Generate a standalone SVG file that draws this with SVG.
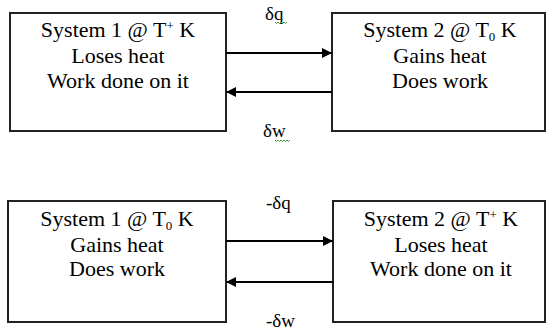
<svg xmlns="http://www.w3.org/2000/svg" width="547" height="331" viewBox="0 0 547 331">
<style>
.box{fill:#fff;stroke:#222;stroke-width:2}
.t{font-family:"Liberation Serif","Times New Roman",serif;font-size:22px;fill:#000;text-anchor:middle}
.l{font-family:"Liberation Serif","Times New Roman",serif;font-size:19px;fill:#000}
.c{stroke:#000;stroke-width:2;fill:none}
.sq{stroke:#3a9a3a;stroke-width:1;fill:none}
</style>
<defs>
<marker id="ah" viewBox="0 0 10 10" refX="10" refY="5" markerWidth="10" markerHeight="10" markerUnits="userSpaceOnUse" orient="auto">
<path d="M0,0 L10,5 L0,10 z" fill="#000"/>
</marker>
</defs>
<rect width="547" height="331" fill="#fff"/>
<g id="top-sys1">
<rect class="box" x="10" y="13" width="216" height="118"/>
<text class="t" x="118" y="37">System 1 @ T<tspan font-size="13" dy="-7">+</tspan><tspan dy="7"> K</tspan></text>
<text class="t" x="118" y="63">Loses heat</text>
<text class="t" x="118" y="88">Work done on it</text>
</g>
<g id="top-sys2">
<rect class="box" x="332" y="13" width="213" height="118"/>
<text class="t" x="440" y="37">System 2 @ T<tspan font-size="13" dy="4">0</tspan><tspan dy="-4"> K</tspan></text>
<text class="t" x="440" y="63">Gains heat</text>
<text class="t" x="440" y="88">Does work</text>
</g>
<g id="bot-sys1">
<rect class="box" x="8" y="201" width="218" height="121"/>
<text class="t" x="117" y="226">System 1 @ T<tspan font-size="13" dy="4">0</tspan><tspan dy="-4"> K</tspan></text>
<text class="t" x="117" y="252">Gains heat</text>
<text class="t" x="117" y="276">Does work</text>
</g>
<g id="bot-sys2">
<rect class="box" x="333" y="201" width="212" height="121"/>
<text class="t" x="441" y="226">System 2 @ T<tspan font-size="13" dy="-7">+</tspan><tspan dy="7"> K</tspan></text>
<text class="t" x="441" y="252">Loses heat</text>
<text class="t" x="441" y="276">Work done on it</text>
</g>
<g id="connectors">
<line class="c" x1="226" y1="53" x2="332" y2="53" marker-end="url(#ah)"/>
<line class="c" x1="332" y1="92" x2="226" y2="92" marker-end="url(#ah)"/>
<line class="c" x1="226" y1="241" x2="333" y2="241" marker-end="url(#ah)"/>
<line class="c" x1="333" y1="282" x2="226" y2="282" marker-end="url(#ah)"/>
<text class="l" x="265" y="20">δq</text>
<path class="sq" d="M275,22 l1.5,1.5 l1.5,-1.5 l1.5,1.5 l1.5,-1.5 l1.5,1.5 l1.5,-1.5 l1.5,1.5 l1.5,-1.5"/>
<text class="l" x="263" y="137">δw</text>
<path class="sq" d="M275,140 l1.5,1.5 l1.5,-1.5 l1.5,1.5 l1.5,-1.5 l1.5,1.5 l1.5,-1.5 l1.5,1.5 l1.5,-1.5 l1.5,1.5 l1.5,-1.5"/>
<text class="l" x="266" y="209">-δq</text>
<text class="l" x="266" y="327">-δw</text>
</g>
</svg>
